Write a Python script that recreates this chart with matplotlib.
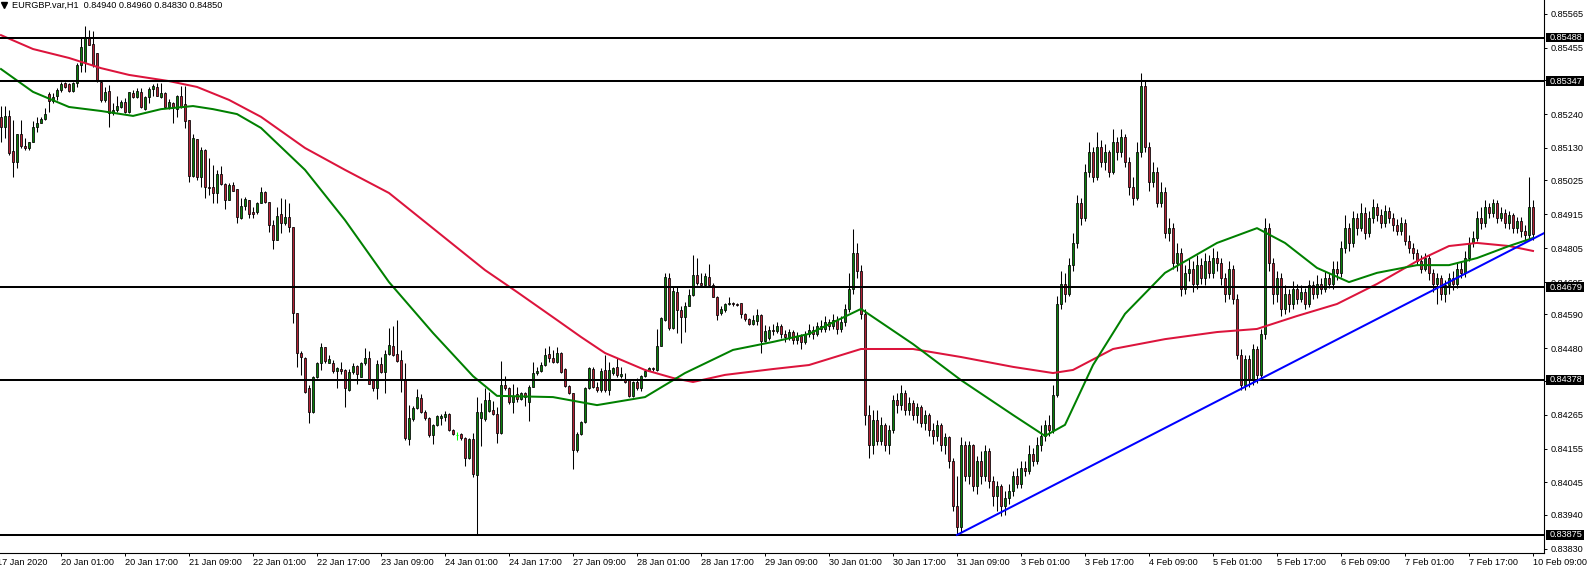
import matplotlib
matplotlib.use("Agg")
import matplotlib.pyplot as plt
from matplotlib.lines import Line2D
from matplotlib.patches import Rectangle
import matplotlib.transforms as mtransforms
import numpy as np

plt.rcParams["font.family"] = ["Liberation Sans", "DejaVu Sans"]

SYMBOL = "EURGBP.var,H1"
LAST_OHLC = [0.84940, 0.84960, 0.84830, 0.84850]

# H1 bars counted from 17 Jan 2020 09:00 (bar 0); first visible bar is 1
FIRST_BAR = 1
OPEN = [
    0.85229, 0.85199, 0.85234, 0.85119, 0.85083, 0.85175, 0.85135, 0.85129, 0.85151, 0.85199,
    0.85212, 0.85224, 0.85305, 0.85284, 0.85297, 0.85318, 0.85342, 0.85338, 0.85316, 0.85340,
    0.85400, 0.85410, 0.85486, 0.85467, 0.85437, 0.85345, 0.85286, 0.85315, 0.85243, 0.85254,
    0.85264, 0.85280, 0.85248, 0.85308, 0.85295, 0.85311, 0.85256, 0.85295, 0.85321, 0.85327,
    0.85295, 0.85308, 0.85264, 0.85277, 0.85256, 0.85297, 0.85273, 0.85221, 0.85040, 0.85159,
    0.85035, 0.85124, 0.85005, 0.85003, 0.84983, 0.85046, 0.85013, 0.84962, 0.85010, 0.84996,
    0.84902, 0.84942, 0.84962, 0.84921, 0.84921, 0.84953, 0.84987, 0.84956, 0.84880, 0.84830,
    0.84916, 0.84886, 0.84905, 0.84873, 0.84594, 0.84466, 0.84448, 0.84351, 0.84275, 0.84387,
    0.84432, 0.84484, 0.84434, 0.84434, 0.84408, 0.84412, 0.84410, 0.84345, 0.84404, 0.84423,
    0.84388, 0.84432, 0.84448, 0.84376, 0.84351, 0.84430, 0.84404, 0.84462, 0.84488, 0.84462,
    0.84442, 0.84377, 0.84185, 0.84250, 0.84286, 0.84318, 0.84275, 0.84254, 0.84199, 0.84230,
    0.84254, 0.84257, 0.84267, 0.84215, 0.84199, 0.84202, 0.84188, 0.84124, 0.84185, 0.84069,
    0.84254, 0.84250, 0.84278, 0.84280, 0.84266, 0.84205, 0.84362, 0.84351, 0.84306, 0.84332,
    0.84316, 0.84336, 0.84306, 0.84356, 0.84399, 0.84408, 0.84426, 0.84462, 0.84448, 0.84437,
    0.84464, 0.84412, 0.84358, 0.84334, 0.84151, 0.84202, 0.84241, 0.84351, 0.84412, 0.84356,
    0.84345, 0.84410, 0.84345, 0.84399, 0.84419, 0.84391, 0.84377, 0.84377, 0.84326, 0.84372,
    0.84351, 0.84391, 0.84408, 0.84415, 0.84410, 0.84488, 0.84572, 0.84707, 0.84545, 0.84664,
    0.84603, 0.84583, 0.84618, 0.84653, 0.84718, 0.84693, 0.84686, 0.84713, 0.84686, 0.84648,
    0.84596, 0.84605, 0.84624, 0.84628, 0.84624, 0.84626, 0.84592, 0.84574, 0.84559, 0.84570,
    0.84589, 0.84505, 0.84514,
    0.84540, 0.84536, 0.84552, 0.84526, 0.84516, 0.84533, 0.84506, 0.84520, 0.84500, 0.84526,
    0.84539, 0.84526, 0.84552, 0.84542, 0.84565, 0.84552, 0.84572, 0.84542, 0.84565, 0.84608,
    0.84674, 0.84789, 0.84730, 0.84592, 0.84263, 0.84165, 0.84247, 0.84181, 0.84230, 0.84165,
    0.84214, 0.84312, 0.84296, 0.84335, 0.84280, 0.84303, 0.84263, 0.84289, 0.84237, 0.84263,
    0.84214, 0.84197, 0.84230, 0.84165, 0.84191, 0.84115, 0.83968, 0.83902, 0.84165, 0.84066,
    0.84165, 0.84033, 0.84115, 0.84066, 0.84148, 0.84050, 0.84000, 0.84033, 0.83968, 0.83994,
    0.84017, 0.84066, 0.84040, 0.84092, 0.84082, 0.84138, 0.84115, 0.84165, 0.84197, 0.84230,
    0.84214, 0.84329, 0.84625, 0.84690, 0.84657, 0.84749, 0.84822, 0.84953, 0.84904, 0.85052,
    0.85117, 0.85035, 0.85134, 0.85084, 0.85117, 0.85052, 0.85150, 0.85117, 0.85167, 0.85084,
    0.85002, 0.84969, 0.85117, 0.85331, 0.85134, 0.85019, 0.85052, 0.84953, 0.84986, 0.84854,
    0.84871, 0.84756, 0.84789, 0.84674, 0.84723, 0.84739, 0.84690, 0.84749, 0.84707, 0.84762,
    0.84723, 0.84772, 0.84756, 0.84707, 0.84657, 0.84739, 0.84641, 0.84460, 0.84362, 0.84444,
    0.84378, 0.84477, 0.84395, 0.84526, 0.84871, 0.84756, 0.84657, 0.84707, 0.84608, 0.84657,
    0.84625, 0.84674, 0.84641, 0.84664, 0.84625, 0.84684, 0.84657, 0.84690, 0.84674, 0.84707,
    0.84690, 0.84739, 0.84723, 0.84805, 0.84871, 0.84822, 0.84904, 0.84871, 0.84920, 0.84854,
    0.84904, 0.84937, 0.84914, 0.84887, 0.84927, 0.84904, 0.84881, 0.84861, 0.84887, 0.84828,
    0.84805, 0.84789, 0.84762, 0.84739, 0.84772, 0.84723, 0.84690, 0.84707, 0.84657, 0.84684,
    0.84707, 0.84690, 0.84739, 0.84723, 0.84772, 0.84822, 0.84838, 0.84904, 0.84887, 0.84937,
    0.84920, 0.84953, 0.84904, 0.84920, 0.84887, 0.84914, 0.84871, 0.84894, 0.84861, 0.84848,
    0.84940,
]
HIGH = [
    0.85267, 0.85267, 0.85254, 0.85221, 0.85175, 0.85221, 0.85162, 0.85151, 0.85216, 0.85232,
    0.85232, 0.85259, 0.85313, 0.85308, 0.85324, 0.85345, 0.85345, 0.85340, 0.85345, 0.85405,
    0.85486, 0.85526, 0.85513, 0.85508, 0.85437, 0.85351, 0.85329, 0.85334, 0.85275, 0.85297,
    0.85286, 0.85291, 0.85313, 0.85318, 0.85324, 0.85324, 0.85297, 0.85327, 0.85338, 0.85342,
    0.85342, 0.85313, 0.85288, 0.85280, 0.85302, 0.85331, 0.85331, 0.85221, 0.85176, 0.85159,
    0.85133, 0.85126, 0.85097, 0.85075, 0.85059, 0.85070, 0.85018, 0.85018, 0.85021, 0.84996,
    0.84967, 0.84970, 0.84962, 0.84940, 0.84956, 0.85005, 0.84991, 0.84956, 0.84897, 0.84940,
    0.84967, 0.84964, 0.84951, 0.84875, 0.84596, 0.84470, 0.84453, 0.84362, 0.84389, 0.84437,
    0.84497, 0.84486, 0.84459, 0.84441, 0.84420, 0.84437, 0.84412, 0.84412, 0.84432, 0.84426,
    0.84437, 0.84481, 0.84470, 0.84381, 0.84441, 0.84453, 0.84475, 0.84545, 0.84551, 0.84572,
    0.84475, 0.84432, 0.84297, 0.84293, 0.84348, 0.84332, 0.84280, 0.84257, 0.84236, 0.84263,
    0.84267, 0.84278, 0.84270, 0.84220, 0.84208, 0.84204, 0.84191, 0.84188, 0.84204, 0.84322,
    0.84302, 0.84351, 0.84337, 0.84308, 0.84290, 0.84440, 0.84389, 0.84354, 0.84364, 0.84354,
    0.84340, 0.84340, 0.84362, 0.84437, 0.84420, 0.84437, 0.84481, 0.84488, 0.84475, 0.84486,
    0.84468, 0.84415, 0.84362, 0.84336, 0.84210, 0.84246, 0.84354, 0.84421, 0.84420, 0.84370,
    0.84415, 0.84459, 0.84437, 0.84420, 0.84448, 0.84420, 0.84399, 0.84380, 0.84375, 0.84383,
    0.84394, 0.84412, 0.84420, 0.84420, 0.84542, 0.84583, 0.84726, 0.84724, 0.84680, 0.84678,
    0.84616, 0.84632, 0.84672, 0.84783, 0.84772, 0.84726, 0.84724, 0.84754, 0.84691, 0.84650,
    0.84616, 0.84626, 0.84648, 0.84631, 0.84628, 0.84628, 0.84594, 0.84578, 0.84588, 0.84607,
    0.84592, 0.84556, 0.84553,
    0.84559, 0.84565, 0.84559, 0.84539, 0.84542, 0.84539, 0.84533, 0.84526, 0.84536, 0.84559,
    0.84552, 0.84565, 0.84572, 0.84585, 0.84575, 0.84592, 0.84585, 0.84585, 0.84625, 0.84723,
    0.84868, 0.84822, 0.84749, 0.84608, 0.84296, 0.84280, 0.84280, 0.84257, 0.84237, 0.84230,
    0.84329, 0.84335, 0.84362, 0.84345, 0.84322, 0.84312, 0.84303, 0.84296, 0.84280, 0.84270,
    0.84237, 0.84247, 0.84237, 0.84204, 0.84197, 0.84125, 0.84066, 0.84191, 0.84178, 0.84181,
    0.84171, 0.84132, 0.84148, 0.84165, 0.84158, 0.84066, 0.84050, 0.84040, 0.84017, 0.84040,
    0.84082, 0.84092, 0.84115, 0.84115, 0.84165, 0.84158, 0.84191, 0.84230, 0.84247, 0.84263,
    0.84362, 0.84651, 0.84730, 0.84723, 0.84772, 0.84854, 0.84979, 0.84969, 0.85078, 0.85150,
    0.85134, 0.85183, 0.85157, 0.85144, 0.85124, 0.85190, 0.85167, 0.85190, 0.85176, 0.85101,
    0.85035, 0.85150, 0.85373, 0.85347, 0.85150, 0.85084, 0.85068, 0.85019, 0.85002, 0.84904,
    0.84887, 0.84822, 0.84805, 0.84749, 0.84772, 0.84762, 0.84782, 0.84772, 0.84789, 0.84782,
    0.84805, 0.84795, 0.84772, 0.84723, 0.84762, 0.84749, 0.84657, 0.84477, 0.84460, 0.84460,
    0.84493, 0.84487, 0.84542, 0.84904, 0.84887, 0.84772, 0.84730, 0.84723, 0.84684, 0.84674,
    0.84697, 0.84690, 0.84684, 0.84677, 0.84703, 0.84697, 0.84717, 0.84707, 0.84730, 0.84723,
    0.84762, 0.84762, 0.84828, 0.84914, 0.84887, 0.84927, 0.84920, 0.84953, 0.84937, 0.84927,
    0.84966, 0.84953, 0.84933, 0.84946, 0.84940, 0.84920, 0.84901, 0.84907, 0.84901, 0.84848,
    0.84822, 0.84802, 0.84782, 0.84789, 0.84782, 0.84736, 0.84723, 0.84717, 0.84703, 0.84723,
    0.84730, 0.84756, 0.84762, 0.84795, 0.84841, 0.84861, 0.84927, 0.84937, 0.84960, 0.84953,
    0.84966, 0.84960, 0.84937, 0.84933, 0.84927, 0.84920, 0.84907, 0.84907, 0.84881, 0.85035,
    0.84960,
]
LOW = [
    0.85151, 0.85162, 0.85108, 0.85037, 0.85064, 0.85129, 0.85124, 0.85124, 0.85151, 0.85183,
    0.85210, 0.85221, 0.85248, 0.85275, 0.85286, 0.85313, 0.85324, 0.85313, 0.85313, 0.85329,
    0.85378, 0.85378, 0.85464, 0.85394, 0.85345, 0.85280, 0.85280, 0.85199, 0.85237, 0.85248,
    0.85259, 0.85243, 0.85243, 0.85291, 0.85291, 0.85259, 0.85254, 0.85275, 0.85299, 0.85297,
    0.85291, 0.85264, 0.85256, 0.85212, 0.85232, 0.85259, 0.85194, 0.85021, 0.85037, 0.85027,
    0.85005, 0.84967, 0.84978, 0.84951, 0.84953, 0.85010, 0.84931, 0.84960, 0.84989, 0.84888,
    0.84899, 0.84929, 0.84902, 0.84902, 0.84916, 0.84951, 0.84953, 0.84859, 0.84802, 0.84830,
    0.84854, 0.84880, 0.84859, 0.84562, 0.84421, 0.84394, 0.84335, 0.84237, 0.84272, 0.84383,
    0.84410, 0.84434, 0.84431, 0.84401, 0.84351, 0.84398, 0.84289, 0.84343, 0.84398, 0.84365,
    0.84386, 0.84426, 0.84363, 0.84343, 0.84315, 0.84401, 0.84336, 0.84459, 0.84456, 0.84437,
    0.84340, 0.84183, 0.84167, 0.84246, 0.84283, 0.84269, 0.84248, 0.84194, 0.84171, 0.84227,
    0.84233, 0.84246, 0.84213, 0.84199, 0.84183, 0.84183, 0.84099, 0.84121, 0.84062, 0.83877,
    0.84164, 0.84246, 0.84275, 0.84264, 0.84174, 0.84202, 0.84345, 0.84301, 0.84272, 0.84306,
    0.84311, 0.84292, 0.84246, 0.84356, 0.84394, 0.84404, 0.84423, 0.84437, 0.84434, 0.84434,
    0.84401, 0.84356, 0.84332, 0.84088, 0.84145, 0.84199, 0.84238, 0.84347, 0.84351, 0.84340,
    0.84340, 0.84340, 0.84330, 0.84394, 0.84388, 0.84383, 0.84367, 0.84323, 0.84321, 0.84345,
    0.84343, 0.84386, 0.84408, 0.84408, 0.84408, 0.84488, 0.84570, 0.84538, 0.84542, 0.84531,
    0.84499, 0.84534, 0.84616, 0.84650, 0.84686, 0.84686, 0.84686, 0.84686, 0.84646, 0.84572,
    0.84589, 0.84599, 0.84621, 0.84618, 0.84616, 0.84578, 0.84570, 0.84556, 0.84556, 0.84556,
    0.84464, 0.84502, 0.84507,
    0.84523, 0.84529, 0.84513, 0.84500, 0.84506, 0.84493, 0.84493, 0.84477, 0.84493, 0.84516,
    0.84510, 0.84520, 0.84533, 0.84533, 0.84539, 0.84542, 0.84526, 0.84533, 0.84552, 0.84598,
    0.84657, 0.84707, 0.84575, 0.84230, 0.84125, 0.84138, 0.84165, 0.84165, 0.84148, 0.84138,
    0.84204, 0.84270, 0.84280, 0.84263, 0.84263, 0.84247, 0.84237, 0.84224, 0.84214, 0.84197,
    0.84171, 0.84181, 0.84148, 0.84138, 0.84092, 0.83951, 0.83875, 0.83885, 0.84050, 0.84040,
    0.84017, 0.84007, 0.84040, 0.84050, 0.84027, 0.83968, 0.83951, 0.83935, 0.83941, 0.83974,
    0.84000, 0.84027, 0.84027, 0.84066, 0.84072, 0.84099, 0.84105, 0.84148, 0.84181, 0.84197,
    0.84204, 0.84322, 0.84608, 0.84631, 0.84651, 0.84730, 0.84805, 0.84881, 0.84894, 0.85035,
    0.85019, 0.85025, 0.85068, 0.85058, 0.85035, 0.85045, 0.85091, 0.85101, 0.85068, 0.84979,
    0.84946, 0.84960, 0.85101, 0.85117, 0.84992, 0.85002, 0.84937, 0.84937, 0.84838, 0.84828,
    0.84739, 0.84730, 0.84651, 0.84657, 0.84697, 0.84664, 0.84674, 0.84690, 0.84684, 0.84707,
    0.84707, 0.84730, 0.84684, 0.84631, 0.84641, 0.84625, 0.84444, 0.84345, 0.84345, 0.84355,
    0.84362, 0.84368, 0.84378, 0.84510, 0.84730, 0.84625, 0.84631, 0.84585, 0.84592, 0.84598,
    0.84608, 0.84625, 0.84631, 0.84608, 0.84615, 0.84641, 0.84644, 0.84657, 0.84664, 0.84677,
    0.84674, 0.84703, 0.84710, 0.84789, 0.84795, 0.84808, 0.84848, 0.84861, 0.84835, 0.84841,
    0.84887, 0.84894, 0.84871, 0.84874, 0.84887, 0.84861, 0.84848, 0.84848, 0.84815, 0.84789,
    0.84769, 0.84749, 0.84723, 0.84730, 0.84703, 0.84664, 0.84625, 0.84638, 0.84631, 0.84657,
    0.84670, 0.84677, 0.84707, 0.84710, 0.84762, 0.84808, 0.84828, 0.84868, 0.84874, 0.84904,
    0.84907, 0.84887, 0.84894, 0.84871, 0.84868, 0.84854, 0.84854, 0.84841, 0.84828, 0.84835,
    0.84830,
]
CLOSE = [
    0.85199, 0.85234, 0.85113, 0.85083, 0.85175, 0.85135, 0.85129, 0.85151, 0.85199, 0.85212,
    0.85224, 0.85240, 0.85284, 0.85295, 0.85318, 0.85338, 0.85329, 0.85316, 0.85342, 0.85400,
    0.85459, 0.85491, 0.85464, 0.85400, 0.85351, 0.85286, 0.85313, 0.85243, 0.85254, 0.85267,
    0.85280, 0.85248, 0.85310, 0.85295, 0.85316, 0.85262, 0.85295, 0.85321, 0.85331, 0.85297,
    0.85308, 0.85264, 0.85280, 0.85262, 0.85297, 0.85264, 0.85219, 0.85040, 0.85162, 0.85035,
    0.85122, 0.85003, 0.85001, 0.84983, 0.85046, 0.85013, 0.84962, 0.85010, 0.84991, 0.84907,
    0.84942, 0.84964, 0.84916, 0.84916, 0.84951, 0.84987, 0.84956, 0.84880, 0.84830, 0.84910,
    0.84888, 0.84907, 0.84873, 0.84594, 0.84466, 0.84451, 0.84340, 0.84275, 0.84387, 0.84432,
    0.84484, 0.84440, 0.84444, 0.84408, 0.84415, 0.84408, 0.84351, 0.84404, 0.84423, 0.84398,
    0.84432, 0.84448, 0.84365, 0.84351, 0.84430, 0.84404, 0.84462, 0.84491, 0.84459, 0.84440,
    0.84377, 0.84188, 0.84254, 0.84286, 0.84322, 0.84275, 0.84254, 0.84199, 0.84230, 0.84260,
    0.84260, 0.84267, 0.84215, 0.84202, 0.84199, 0.84188, 0.84124, 0.84185, 0.84073, 0.84275,
    0.84275, 0.84311, 0.84311, 0.84266, 0.84205, 0.84362, 0.84351, 0.84306, 0.84327, 0.84316,
    0.84336, 0.84322, 0.84356, 0.84401, 0.84408, 0.84426, 0.84459, 0.84448, 0.84437, 0.84464,
    0.84404, 0.84358, 0.84334, 0.84151, 0.84202, 0.84241, 0.84351, 0.84417, 0.84356, 0.84345,
    0.84408, 0.84345, 0.84410, 0.84415, 0.84394, 0.84397, 0.84372, 0.84326, 0.84372, 0.84351,
    0.84391, 0.84408, 0.84417, 0.84412, 0.84488, 0.84578, 0.84711, 0.84545, 0.84667, 0.84603,
    0.84581, 0.84618, 0.84653, 0.84718, 0.84691, 0.84686, 0.84715, 0.84686, 0.84648, 0.84589,
    0.84607, 0.84623, 0.84628, 0.84624, 0.84621, 0.84592, 0.84574, 0.84559, 0.84572, 0.84589,
    0.84505, 0.84537, 0.84540,
    0.84536, 0.84552, 0.84526, 0.84516, 0.84533, 0.84506, 0.84520, 0.84500, 0.84526, 0.84539,
    0.84526, 0.84552, 0.84542, 0.84565, 0.84552, 0.84572, 0.84542, 0.84565, 0.84608, 0.84674,
    0.84789, 0.84730, 0.84592, 0.84263, 0.84165, 0.84247, 0.84181, 0.84230, 0.84165, 0.84214,
    0.84312, 0.84296, 0.84335, 0.84280, 0.84303, 0.84263, 0.84289, 0.84237, 0.84263, 0.84214,
    0.84197, 0.84230, 0.84165, 0.84191, 0.84115, 0.83968, 0.83902, 0.84165, 0.84066, 0.84165,
    0.84033, 0.84115, 0.84066, 0.84148, 0.84050, 0.84000, 0.84033, 0.83968, 0.83994, 0.84017,
    0.84066, 0.84040, 0.84092, 0.84082, 0.84138, 0.84115, 0.84165, 0.84197, 0.84230, 0.84214,
    0.84329, 0.84625, 0.84690, 0.84657, 0.84749, 0.84822, 0.84953, 0.84904, 0.85052, 0.85117,
    0.85035, 0.85134, 0.85084, 0.85117, 0.85052, 0.85150, 0.85117, 0.85167, 0.85084, 0.85002,
    0.84969, 0.85117, 0.85331, 0.85134, 0.85019, 0.85052, 0.84953, 0.84986, 0.84854, 0.84871,
    0.84756, 0.84789, 0.84674, 0.84723, 0.84739, 0.84690, 0.84749, 0.84707, 0.84762, 0.84723,
    0.84772, 0.84756, 0.84707, 0.84657, 0.84739, 0.84641, 0.84460, 0.84362, 0.84444, 0.84378,
    0.84477, 0.84395, 0.84526, 0.84871, 0.84756, 0.84657, 0.84707, 0.84608, 0.84657, 0.84625,
    0.84674, 0.84641, 0.84664, 0.84625, 0.84684, 0.84657, 0.84690, 0.84674, 0.84707, 0.84690,
    0.84739, 0.84723, 0.84805, 0.84871, 0.84822, 0.84904, 0.84871, 0.84920, 0.84854, 0.84904,
    0.84937, 0.84914, 0.84887, 0.84927, 0.84904, 0.84881, 0.84861, 0.84887, 0.84828, 0.84805,
    0.84789, 0.84762, 0.84739, 0.84772, 0.84723, 0.84690, 0.84707, 0.84657, 0.84684, 0.84707,
    0.84690, 0.84739, 0.84723, 0.84772, 0.84822, 0.84838, 0.84904, 0.84887, 0.84937, 0.84920,
    0.84953, 0.84904, 0.84920, 0.84887, 0.84914, 0.84871, 0.84894, 0.84861, 0.84848, 0.84940,
    0.84850,
]

# moving averages, read at sample bars
MA_FAST_BARS = [1, 9, 18, 26, 34, 41, 49, 54, 60, 66, 77, 87, 98, 109, 119, 125, 139, 150,
                162, 172, 184, 194, 203, 216, 229, 241, 254, 262, 267, 274, 282, 292, 305,
                315, 322, 330, 338, 345, 355, 363, 370, 378, 384]
MA_FAST = [0.85386, 0.85312, 0.85263, 0.85250, 0.85234, 0.85256, 0.85266, 0.85256, 0.85240,
           0.85195, 0.85059, 0.84896, 0.84695, 0.84530, 0.84390, 0.84326, 0.84322, 0.84296,
           0.84322, 0.84400, 0.84475, 0.84501, 0.84527, 0.84608, 0.84494, 0.84377, 0.84264,
           0.84196, 0.84232, 0.84426, 0.84592, 0.84725, 0.84822, 0.84870, 0.84822, 0.84741,
           0.84695, 0.84725, 0.84750, 0.84750, 0.84773, 0.84812, 0.84838]
MA_SLOW_BARS = [1, 9, 18, 26, 33, 43, 50, 58, 66, 77, 87, 98, 122, 130, 140, 146, 152, 162,
                169, 174, 182, 194, 203, 216, 229, 241, 254, 264, 269, 279, 292, 305, 315,
                325, 335, 345, 355, 363, 370, 378, 384]
MA_SLOW = [0.85496, 0.85451, 0.85422, 0.85389, 0.85367, 0.85347, 0.85328, 0.85286, 0.85231,
           0.85130, 0.85059, 0.84984, 0.84734, 0.84663, 0.84572, 0.84517, 0.84465, 0.84410,
           0.84384, 0.84371, 0.84394, 0.84413, 0.84426, 0.84478, 0.84478, 0.84452, 0.84420,
           0.84400, 0.84410, 0.84478, 0.84510, 0.84533, 0.84543, 0.84585, 0.84624, 0.84689,
           0.84763, 0.84812, 0.84822, 0.84812, 0.84796]

LEVELS = [0.85488, 0.85347, 0.84679, 0.84378, 0.83875]
TREND_BARS = [240, 361]
TREND_PRICES = [0.83875, 0.84682]

PRICE_TICKS = [0.85565, 0.85455, 0.85350, 0.85240, 0.85130, 0.85025, 0.84915, 0.84805,
               0.84695, 0.84590, 0.84480, 0.84375, 0.84265, 0.84155, 0.84045, 0.83940,
               0.83830]
TIME_LABELS = ["17 Jan 2020", "20 Jan 01:00", "20 Jan 17:00", "21 Jan 09:00", "22 Jan 01:00",
               "22 Jan 17:00", "23 Jan 09:00", "24 Jan 01:00", "24 Jan 17:00", "27 Jan 09:00",
               "28 Jan 01:00", "28 Jan 17:00", "29 Jan 09:00", "30 Jan 01:00", "30 Jan 17:00",
               "31 Jan 09:00", "3 Feb 01:00", "3 Feb 17:00", "4 Feb 09:00", "5 Feb 01:00",
               "5 Feb 17:00", "6 Feb 09:00", "7 Feb 01:00", "7 Feb 17:00", "10 Feb 09:00"]
LABEL_STEP = 16

BULL = "#0a7f0a"
BEAR = "#b22234"
FS = 6.6

W, H = 1588, 568
fig = plt.figure(figsize=(W / 100, H / 100), dpi=100)
ax = fig.add_axes([0, 15 / H, 1544 / W, 553 / H])
ax.set_xlim(0.75, 386.75)
ax.set_ylim(0.838163, 0.85610)

o, h, l, c = (np.array(a) for a in (OPEN, HIGH, LOW, CLOSE))
x = np.arange(FIRST_BAR, FIRST_BAR + len(c))
up, dn, dj = c > o, c < o, c == o
ax.vlines(x[~dj], l[~dj], h[~dj], color="black", lw=0.75, zorder=2)
ax.bar(x[up], c[up] - o[up], bottom=o[up], width=0.72, color=BULL,
       edgecolor="black", linewidth=0.55, zorder=3)
ax.bar(x[dn], o[dn] - c[dn], bottom=c[dn], width=0.72, color=BEAR,
       edgecolor="black", linewidth=0.55, zorder=3)
ax.vlines(x[dj], l[dj], h[dj], color="#00ff00", lw=0.75, zorder=3)
ax.hlines(c[dj], x[dj] - 0.36, x[dj] + 0.36, color="#00ff00", lw=0.75, zorder=3)

ax.plot(MA_SLOW_BARS, MA_SLOW, color="#dc143c", lw=1.45, zorder=4)
ax.plot(MA_FAST_BARS, MA_FAST, color="#008000", lw=1.45, zorder=4)

for lv in LEVELS:
    ax.axhline(lv, color="black", lw=1.45, zorder=5)

slope = (TREND_PRICES[1] - TREND_PRICES[0]) / (TREND_BARS[1] - TREND_BARS[0])
xe = ax.get_xlim()[1]
ax.plot([TREND_BARS[0], xe], [TREND_PRICES[0], TREND_PRICES[0] + slope * (xe - TREND_BARS[0])],
        color="#0000ff", lw=1.45, zorder=5)

for s in ("left", "top"):
    ax.spines[s].set_visible(False)
for s in ("right", "bottom"):
    ax.spines[s].set_linewidth(0.8)

ax.yaxis.tick_right()
ax.set_yticks(PRICE_TICKS)
ax.set_yticklabels([f"{v:.5f}" for v in PRICE_TICKS])
ax.tick_params(axis="y", direction="out", length=2.5, width=0.7, pad=2.5, labelsize=FS)

tpos = [k * LABEL_STEP for k in range(len(TIME_LABELS))]
ax.set_xticks(tpos[1:])
ax.set_xticklabels(TIME_LABELS[1:], ha="left")
ax.tick_params(axis="x", direction="out", length=2.5, width=0.7, pad=0.8, labelsize=FS)
ax.annotate(TIME_LABELS[0], xy=(tpos[0], 0), xycoords=("data", "axes fraction"),
            xytext=(0, -3.3), textcoords="offset points", ha="left", va="top",
            fontsize=FS, annotation_clip=False)

# price labels of the horizontal levels
tr = mtransforms.blended_transform_factory(ax.transAxes, ax.transData)
bh = 9.5 / (553 / (0.85610 - 0.838163))
for lv in LEVELS:
    ax.add_patch(Rectangle((1 + 2 / 1544, lv - bh / 2), 38 / 1544, bh, transform=tr,
                           facecolor="black", edgecolor="none", clip_on=False, zorder=8))
    ax.text(1 + 6 / 1544, lv, f"{lv:.5f}", transform=tr, color="white", fontsize=FS,
            ha="left", va="center", clip_on=False, zorder=9)

fig.add_artist(Line2D([4 / W], [1 - 5 / H], marker="v", ms=4, color="black",
                      transform=fig.transFigure))
fig.text(12.5 / W, 1 - 5.5 / H, SYMBOL + "  " + " ".join(f"{v:.5f}" for v in LAST_OHLC),
         ha="left", va="center", fontsize=FS)

fig.savefig("out.png", dpi=100)
